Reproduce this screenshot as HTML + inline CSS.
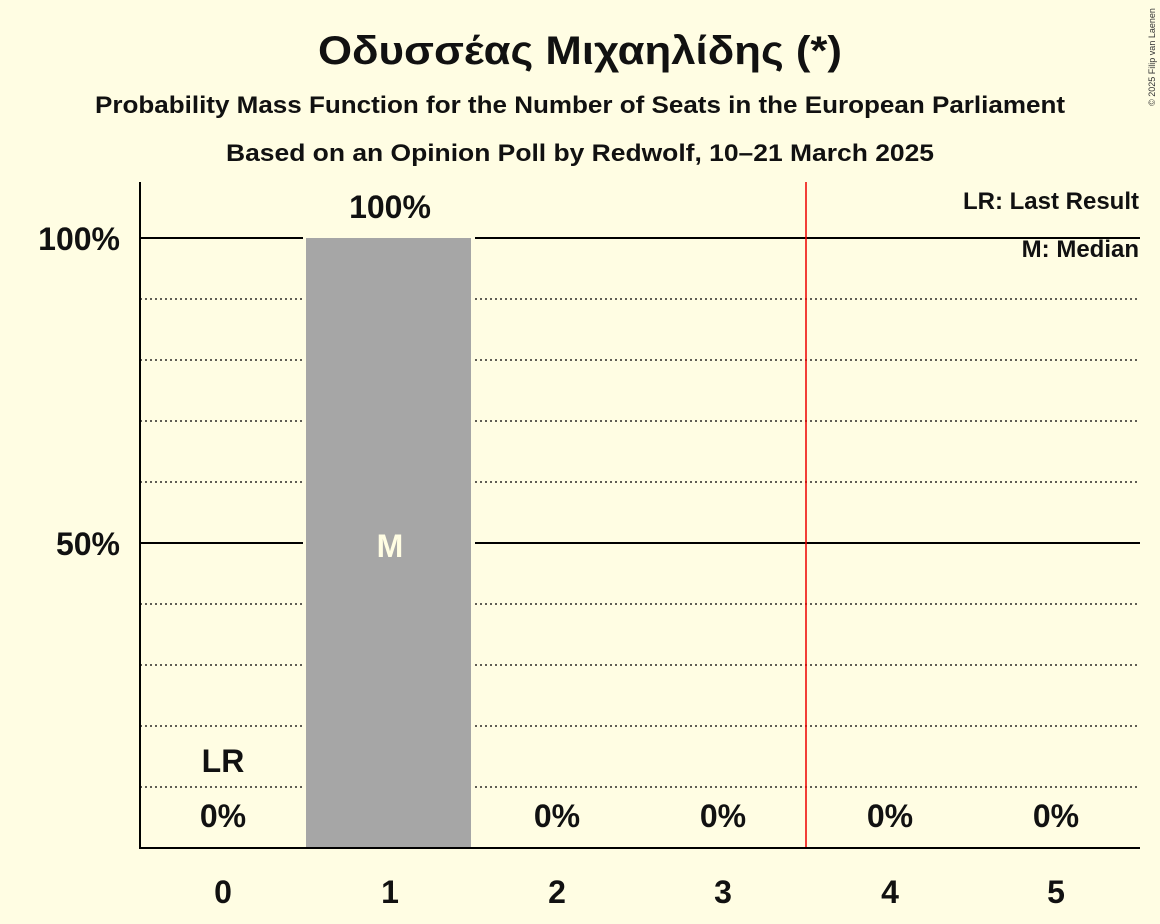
<!DOCTYPE html>
<html><head><meta charset="utf-8"><style>
body{margin:0;background:#fffde3;}
svg{display:block;font-family:"Liberation Sans","DejaVu Sans",sans-serif;}
</style></head><body>
<svg width="1160" height="924" viewBox="0 0 1160 924" xmlns="http://www.w3.org/2000/svg">
<rect width="1160" height="924" fill="#fffde3"/>
<text x="580" y="64" text-anchor="middle" font-size="40" font-weight="bold" fill="#111" textLength="524" lengthAdjust="spacingAndGlyphs">Οδυσσέας Μιχαηλίδης (*)</text>
<text x="580" y="113" text-anchor="middle" font-size="24" font-weight="bold" fill="#111" textLength="970" lengthAdjust="spacingAndGlyphs">Probability Mass Function for the Number of Seats in the European Parliament</text>
<text x="580" y="161" text-anchor="middle" font-size="24" font-weight="bold" fill="#111" textLength="708" lengthAdjust="spacingAndGlyphs">Based on an Opinion Poll by Redwolf, 10–21 March 2025</text>
<text transform="translate(1155,57) rotate(-90)" text-anchor="middle" font-size="9" fill="#333">© 2025 Filip van Laenen</text>
<g stroke="#000" stroke-width="1.3" stroke-dasharray="2,3">
<line x1="140" x2="1140" y1="299" y2="299"/><line x1="140" x2="1140" y1="360" y2="360"/>
<line x1="140" x2="1140" y1="421" y2="421"/><line x1="140" x2="1140" y1="482" y2="482"/>
<line x1="140" x2="1140" y1="604" y2="604"/><line x1="140" x2="1140" y1="665" y2="665"/>
<line x1="140" x2="1140" y1="726" y2="726"/><line x1="140" x2="1140" y1="787" y2="787"/>
</g>
<g stroke="#000" stroke-width="2">
<line x1="140" x2="1140" y1="238" y2="238"/><line x1="140" x2="1140" y1="543" y2="543"/>
</g>
<rect x="303" y="236" width="172" height="614" fill="#fffde3"/>
<rect x="306" y="238" width="165" height="610" fill="#a6a6a6"/>
<line x1="806" x2="806" y1="182" y2="848" stroke="#e00" stroke-width="1.5"/>
<line x1="140" x2="140" y1="182" y2="849" stroke="#000" stroke-width="2"/>
<line x1="139" x2="1140" y1="848" y2="848" stroke="#000" stroke-width="2"/>
<g font-size="32" font-weight="bold" fill="#111" text-anchor="end">
<text x="120" y="250">100%</text><text x="120" y="555">50%</text>
</g>
<g font-size="32" font-weight="bold" fill="#111" text-anchor="middle">
<text x="223" y="903">0</text><text x="390" y="903">1</text><text x="557" y="903">2</text>
<text x="723" y="903">3</text><text x="890" y="903">4</text><text x="1056" y="903">5</text>
<text x="390" y="218">100%</text>
<text x="223" y="827">0%</text><text x="557" y="827">0%</text><text x="723" y="827">0%</text>
<text x="890" y="827">0%</text><text x="1056" y="827">0%</text>
<text x="223" y="772">LR</text>
<text x="390" y="557" fill="#fffde3">M</text>
</g>
<g font-size="24" font-weight="bold" fill="#111" text-anchor="end">
<text x="1139" y="209">LR: Last Result</text><text x="1139" y="257">M: Median</text>
</g>
</svg>
</body></html>
